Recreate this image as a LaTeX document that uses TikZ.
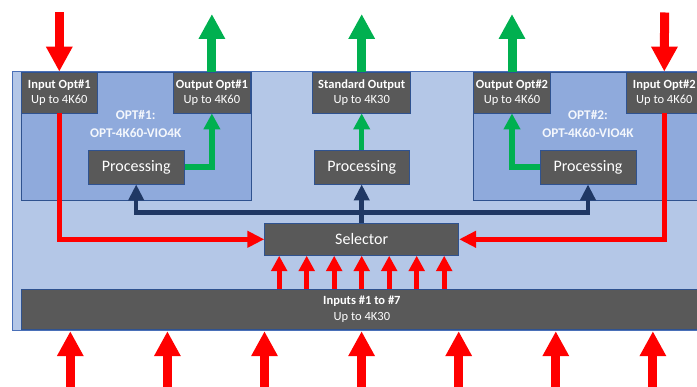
\documentclass[tikz,border=0pt]{standalone}
\usepackage{fontspec}
\setmainfont{Carlito}
\usetikzlibrary{arrows.meta}
\definecolor{outerbg}{HTML}{B4C7E7}
\definecolor{outeredge}{HTML}{4A70B8}
\definecolor{optbg}{HTML}{8FAADC}
\definecolor{optlabelc}{HTML}{F4F7FC}
\definecolor{boxgray}{HTML}{595959}
\definecolor{edgeblue}{HTML}{2F528F}
\definecolor{navy}{HTML}{203864}
\definecolor{grn}{HTML}{00B050}
\definecolor{rd}{HTML}{FF0000}
\begin{document}
\begin{tikzpicture}[x=1pt,y=-1pt,
  darkbox/.style={draw=edgeblue, line width=0.8pt, fill=boxgray, text=white, inner sep=0pt, align=center},
  io/.style={darkbox, font=\fontsize{12.5}{15.5}\selectfont, minimum height=41pt},
  proc/.style={darkbox, font=\fontsize{16}{19}\selectfont, minimum height=34pt},
  region/.style={draw=edgeblue, line width=0.6pt, fill=optbg, inner sep=0pt, minimum width=230pt, minimum height=128pt},
  optlabel/.style={text=optlabelc, align=center, font=\fontsize{13.3}{18.5}\selectfont\bfseries},
  bigred/.style={draw=rd, line width=9pt, -{Triangle[length=25pt,width=25pt]}},
  biggreen/.style={draw=grn, line width=9pt, -{Triangle[length=25pt,width=25pt]}},
  redflow/.style={draw=rd, line width=5.5pt, -{Triangle[length=17pt,width=16pt]}},
  smallred/.style={draw=rd, line width=5pt, -{Triangle[length=15.5pt,width=15.5pt]}},
  greenflow/.style={draw=grn, line width=5.5pt, -{Triangle[length=16pt,width=16pt]}},
  navyflow/.style={draw=navy, line width=4.5pt, -{Triangle[length=16pt,width=15pt]}},
  ]
\useasboundingbox (0,0) rectangle (697,387);
\clip (0,0) rectangle (697,387);
% background frame
\node[draw=outeredge, line width=1pt, fill=outerbg, minimum width=700pt, minimum height=258.7pt, inner sep=0pt] (outer) at (362,201.35) {};
% option regions
\node[region] (opt1) at (135.8,136) {};
\node[region] (opt2) at (587.9,136) {};
\node[optlabel] (opt1label) at (135.7,124) {OPT\#1:\\OPT-4K60-VIO4K};
\node[optlabel] (opt2label) at (588,124) {OPT\#2:\\OPT-4K60-VIO4K};
% I/O boxes
\node[io, minimum width=76.7pt] (in1) at (59.3,92.5) {\textbf{Input Opt\#1}\\Up to 4K60};
\node[io, minimum width=76.3pt] (out1) at (211.9,92.5) {\textbf{Output Opt\#1}\\Up to 4K60};
\node[io, minimum width=98pt] (std) at (361.7,92.5) {\textbf{Standard Output}\\Up to 4K30};
\node[io, minimum width=77.4pt] (out2) at (512,92.5) {\textbf{Output Opt\#2}\\Up to 4K60};
\node[io, minimum width=76.7pt] (in2) at (664.3,92.5) {\textbf{Input Opt\#2}\\Up to 4K60};
% processing
\node[proc, minimum width=96.3pt] (proc1) at (136.2,167) {Processing};
\node[proc, minimum width=95.5pt] (proc2) at (361.7,167) {Processing};
\node[proc, minimum width=96pt] (proc3) at (588,167) {Processing};
% selector and inputs
\node[proc, minimum width=194pt, minimum height=32pt] (sel) at (361.7,239.3) {Selector};
\node[io, minimum width=681pt, minimum height=40pt] (inputs) at (361.9,309.3) {\textbf{Inputs \#1 to \#7}\\Up to 4K30};
% top arrows
\coordinate (tin1) at (59.3,12.5);
\coordinate (tout1) at (211.9,14);
\coordinate (tstd) at (361.7,14);
\coordinate (tout2) at (512,14);
\coordinate (tin2) at (664.6,12.5);
\draw[bigred] (tin1) -- (in1.north);
\draw[bigred] (tin2) -- (in2.north);
\draw[biggreen] (out1.north) -- (tout1);
\draw[biggreen] (std.north) -- (tstd);
\draw[biggreen] (out2.north) -- (tout2);
% green internal
\draw[greenflow] (proc1.east) -| (out1.south);
\draw[greenflow] (proc2.north) -- (std.south);
\draw[greenflow] (proc3.west) -| (out2.south);
% navy distribution
\coordinate (bus) at (361.7,212.7);
\draw[navyflow] (sel.north) -- (proc2.south);
\draw[navyflow] (bus) -| (proc1.south);
\draw[navyflow] (bus) -| (proc3.south);
% red option inputs into selector
\draw[redflow] (in1.south) |- (sel.west);
\draw[redflow] (in2.south) |- (sel.east);
% inputs to selector
\foreach \k in {-3,...,3}
  \draw[smallred] ([xshift=\k*27.5pt]sel.south |- inputs.north) -- ([xshift=\k*27.5pt]sel.south);
% bottom arrows
\foreach \k in {-3,...,3}{
  \coordinate (b\k) at (361.6+\k*97.1,392);
  \draw[bigred] (b\k) -- (b\k |- outer.south);
}
\end{tikzpicture}
\end{document}
